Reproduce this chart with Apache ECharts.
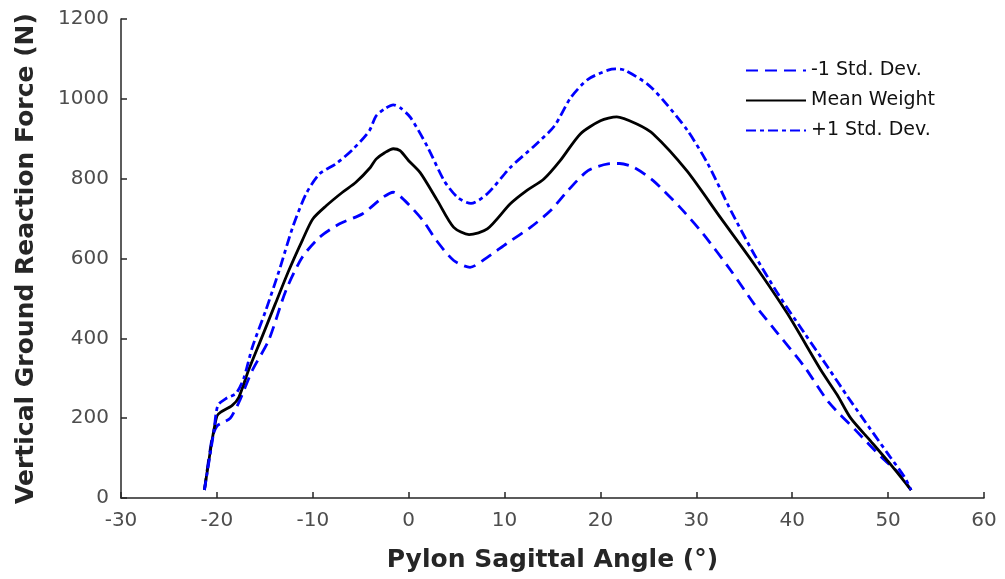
<!DOCTYPE html>
<html>
<head>
<meta charset="utf-8">
<script src="https://cdn.jsdelivr.net/npm/echarts@6/dist/echarts.min.js"></script>
<style>
  html, body { margin: 0; padding: 0; background: #fff; }
  #chart { width: 1005px; height: 579px; }
</style>
</head>
<body>
<div id="chart"></div>
<script>
// -1 Std. Dev.
const lowerAngle = [-21.3, -20.5, -20.0, -19.3, -18.6, -17.7, -16.3, -14.6, -12.8, -11.1, -9.3, -7.2, -4.8, -2.7, -1.6, -0.4,
  1.5, 2.9, 4.7, 6.4, 8.2, 10.2, 12.7, 14.8, 16.6, 18.7, 20.8, 22.0, 23.5, 25.5, 28.3, 30.7, 33.6, 36.0, 38.5, 41.3,
  43.8, 46.6, 49.4, 51.0, 52.4];
const lowerForce = [20, 150, 180, 190, 200, 240, 320, 395, 520, 603, 653, 687, 712, 753, 766, 745,
  695, 645, 595, 578, 603, 637, 678, 720, 770, 820, 837, 838, 828, 795, 728, 662, 570, 487, 412, 328,
  240, 170, 100, 65, 20];

// Mean Weight
const meanAngle = [-21.3, -20.5, -20.0, -19.6, -18.4, -17.7, -16.7, -15.3, -13.9, -12.5, -11.1, -10.0, -8.6, -6.9, -5.5,
  -4.0, -3.4, -2.5, -1.6, -0.9, 0.0, 1.2, 3.0, 4.7, 6.3, 8.2, 10.6, 12.3, 14.1, 15.8, 17.9, 20.0, 21.7, 23.8, 25.5,
  29.0, 32.5, 36.0, 39.5, 43.0, 44.7, 46.1, 48.2, 50.3, 52.4];
const meanForce = [20, 145, 205, 215, 232, 253, 320, 403, 487, 570, 645, 699, 732, 766, 791,
  828, 849, 865, 875, 870, 845, 815, 745, 678, 660, 674, 737, 770, 799, 845, 912, 945, 955, 937, 912,
  820, 703, 587, 462, 320, 258, 200, 142, 83, 20];

// +1 Std. Dev.
const upperAngle = [-21.3, -20.3, -19.9, -19.0, -18.0, -17.2, -16.3, -14.9, -13.5, -12.1, -10.7, -9.3, -7.6, -5.8, -4.1,
  -3.4, -2.5, -1.6, -0.9, 0.2, 2.0, 3.7, 5.1, 6.5, 8.2, 10.6, 13.1, 15.2, 16.9, 18.7, 20.8, 21.6, 22.5, 24.9, 26.6,
  29.1, 31.2, 33.6, 36.0, 38.5, 41.3, 43.7, 45.8, 47.2, 50.0, 51.7, 52.4];
const upperForce = [20, 170, 232, 250, 262, 300, 378, 470, 570, 678, 762, 812, 837, 874, 920,
  957, 975, 985, 978, 953, 878, 795, 753, 738, 762, 828, 882, 932, 1003, 1049, 1072, 1075, 1072, 1037, 995,
  920, 837, 720, 612, 512, 412, 328, 253, 205, 110, 53, 20];

const seriesNames = ['-1 Std. Dev.', 'Mean Weight', '+1 Std. Dev.'];

const zip = (xs, ys) => xs.map((x, i) => [x, ys[i]]);

const chart = echarts.init(document.getElementById('chart'));

const axisColor = '#262626';
const labelColor = '#4d4d4d';
const font = '"DejaVu Sans", Verdana, sans-serif';

chart.setOption({
  animation: false,
  textStyle: { fontFamily: font },
  grid: { left: 121, right: 21, top: 19, bottom: 81, containLabel: false },
  legend: {
    orient: 'vertical',
    left: 740,
    top: 56,
    itemWidth: 60,
    itemHeight: 14,
    itemGap: 11,
    data: seriesNames,
    itemStyle: { opacity: 0 },
    textStyle: { fontSize: 19, color: '#111', fontFamily: font }
  },
  xAxis: {
    type: 'value',
    min: -30,
    max: 60,
    interval: 10,
    name: 'Pylon Sagittal Angle (°)',
    nameLocation: 'middle',
    nameGap: 50,
    nameTextStyle: { fontSize: 25, fontWeight: 'bold', color: axisColor, fontFamily: font },
    axisLine: { onZero: false, lineStyle: { color: axisColor, width: 1.5 } },
    axisTick: { show: true, inside: true, length: 6, lineStyle: { color: axisColor, width: 1.5 } },
    axisLabel: { fontSize: 20, color: labelColor, margin: 13, fontFamily: font },
    splitLine: { show: false }
  },
  yAxis: {
    type: 'value',
    min: 0,
    max: 1200,
    interval: 200,
    name: 'Vertical Ground Reaction Force (N)',
    nameLocation: 'middle',
    nameGap: 82,
    nameTextStyle: { fontSize: 25, fontWeight: 'bold', color: axisColor, fontFamily: font },
    axisLine: { show: true, onZero: false, lineStyle: { color: axisColor, width: 1.5 } },
    axisTick: { show: true, inside: true, length: 6, lineStyle: { color: axisColor, width: 1.5 } },
    axisLabel: { fontSize: 20, color: labelColor, margin: 12, fontFamily: font, formatter: (v) => String(v) },
    splitLine: { show: false }
  },
  series: [
    {
      name: seriesNames[0],
      type: 'line',
      data: zip(lowerAngle, lowerForce),
      symbol: 'none',
      smooth: 0.25,
      lineStyle: { color: '#0000ff', width: 2.8, type: [12, 7] },
      itemStyle: { color: '#0000ff' }
    },
    {
      name: seriesNames[1],
      type: 'line',
      data: zip(meanAngle, meanForce),
      symbol: 'none',
      smooth: 0.25,
      lineStyle: { color: '#000', width: 2.8 },
      itemStyle: { color: '#000' }
    },
    {
      name: seriesNames[2],
      type: 'line',
      data: zip(upperAngle, upperForce),
      symbol: 'none',
      smooth: 0.25,
      lineStyle: { color: '#0000ff', width: 2.8, type: [10, 4, 4, 4] },
      itemStyle: { color: '#0000ff' }
    }
  ]
});
</script>
</body>
</html>
